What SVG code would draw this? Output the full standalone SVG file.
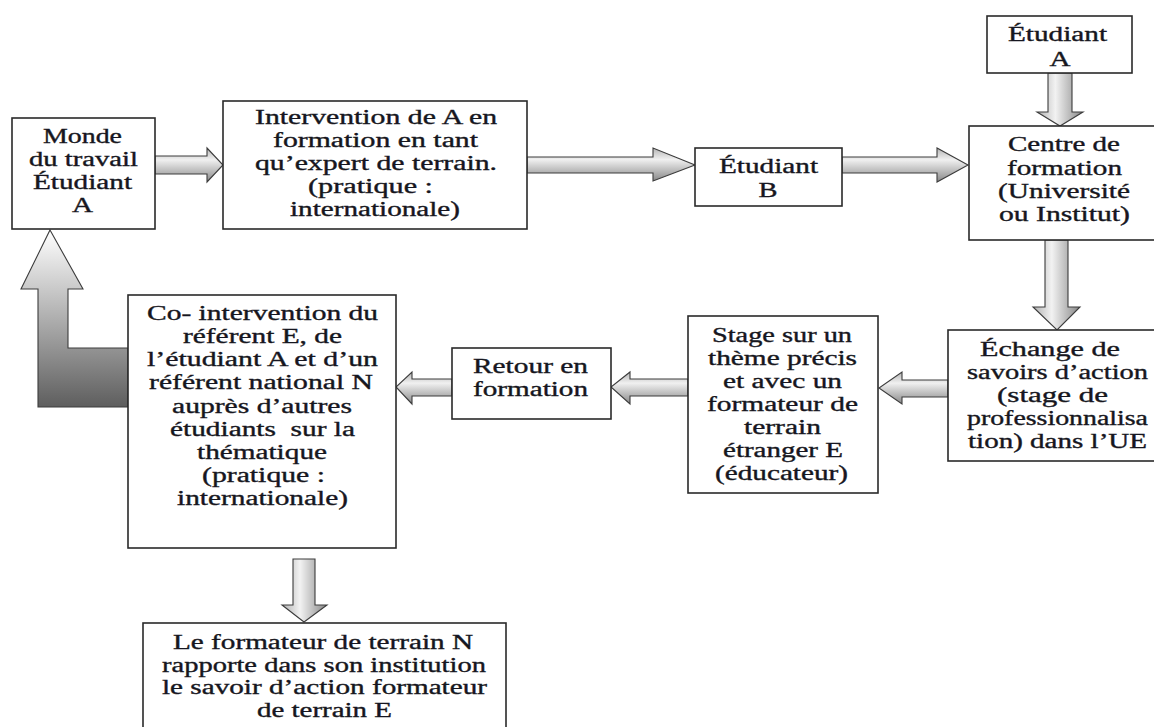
<svg xmlns="http://www.w3.org/2000/svg" width="1154" height="727" viewBox="0 0 1154 727">
<style>
.box{fill:#fff;stroke:#2a2a2a;stroke-width:1.6}
.t{font-family:"Liberation Serif","Times New Roman",serif;font-size:20px;fill:#161620;stroke:#161620;stroke-width:0.35;text-anchor:middle}
.ah{stroke:#3c3c3c;stroke-width:1.1;fill:url(#gh)}
.av{stroke:#3c3c3c;stroke-width:1.1;fill:url(#gv)}
.al{stroke:#3c3c3c;stroke-width:1.1;fill:url(#gl)}
</style>
<defs>
<linearGradient id="gh" x1="0" y1="0" x2="0" y2="1">
<stop offset="0" stop-color="#b4b4b4"/><stop offset="0.35" stop-color="#f0f0f0"/><stop offset="1" stop-color="#888"/>
</linearGradient>
<linearGradient id="gv" x1="0" y1="0" x2="1" y2="0">
<stop offset="0" stop-color="#b0b0b0"/><stop offset="0.4" stop-color="#f2f2f2"/><stop offset="1" stop-color="#868686"/>
</linearGradient>
<linearGradient id="gl" x1="0" y1="0" x2="0" y2="1">
<stop offset="0" stop-color="#ffffff"/><stop offset="1" stop-color="#5e5e5e"/>
</linearGradient>
</defs>
<rect width="1154" height="727" fill="#fff"/>

<g id="connectors">
<polygon class="ah" points="155,156 207,156 207,148 223,165 207,182 207,174 155,174"/>
<polygon class="ah" points="527,157 653,157 653,148 695,165 653,181 653,173 527,173"/>
<polygon class="ah" points="842,157 937,157 937,148 968,165 937,182 937,173 842,173"/>
<polygon class="av" points="1048,73 1072,73 1072,112 1083,112 1060,126 1037,112 1048,112"/>
<polygon class="av" points="1045,240 1068,240 1068,307 1080,307 1057,330 1033,307 1045,307"/>
<polygon class="ah" points="948,380 902,380 902,372 879,388 902,404 902,397 948,397"/>
<polygon class="ah" points="688,379 630,379 630,372 611,387 630,404 630,396 688,396"/>
<polygon class="ah" points="452,379 412,379 412,372 396,387 412,404 412,396 452,396"/>
<polygon class="av" points="293,559 315,559 315,605 327,605 304,622 282,605 293,605"/>
<polygon class="al" points="50,230 83,289 68,289 68,348 128,348 128,407 38,407 38,289 21,289"/>
</g>

<g id="monde">
<rect class="box" x="12" y="118" width="143" height="111"/>
<text class="t" x="82.5" y="143" textLength="79" lengthAdjust="spacingAndGlyphs">Monde</text>
<text class="t" x="83.5" y="166" textLength="109" lengthAdjust="spacingAndGlyphs">du travail</text>
<text class="t" x="82.5" y="189" textLength="99" lengthAdjust="spacingAndGlyphs">Étudiant</text>
<text class="t" x="82.5" y="212" textLength="21" lengthAdjust="spacingAndGlyphs">A</text>
</g>

<g id="intervention">
<rect class="box" x="223" y="101" width="304" height="128"/>
<text class="t" x="376" y="124" textLength="242" lengthAdjust="spacingAndGlyphs">Intervention de A en</text>
<text class="t" x="375.5" y="147" textLength="205" lengthAdjust="spacingAndGlyphs">formation en tant</text>
<text class="t" x="376" y="170" textLength="242" lengthAdjust="spacingAndGlyphs">qu’expert de terrain.</text>
<text class="t" x="370.5" y="193" textLength="125" lengthAdjust="spacingAndGlyphs">(pratique :</text>
<text class="t" x="375" y="216" textLength="170" lengthAdjust="spacingAndGlyphs">internationale)</text>
</g>

<g id="etudiantB">
<rect class="box" x="695" y="148" width="147" height="58"/>
<text class="t" x="768.5" y="173" textLength="99" lengthAdjust="spacingAndGlyphs">Étudiant</text>
<text class="t" x="768" y="197" textLength="19" lengthAdjust="spacingAndGlyphs">B</text>
</g>

<g id="etudiantA">
<rect class="box" x="987" y="16" width="145" height="57"/>
<text class="t" x="1057.5" y="41" textLength="99" lengthAdjust="spacingAndGlyphs">Étudiant</text>
<text class="t" x="1060" y="66" textLength="21" lengthAdjust="spacingAndGlyphs">A</text>
</g>

<g id="centre">
<rect class="box" x="969" y="126" width="195" height="114"/>
<text class="t" x="1064" y="151" textLength="112" lengthAdjust="spacingAndGlyphs">Centre de</text>
<text class="t" x="1064.5" y="175" textLength="115" lengthAdjust="spacingAndGlyphs">formation</text>
<text class="t" x="1064" y="198" textLength="132" lengthAdjust="spacingAndGlyphs">(Université</text>
<text class="t" x="1064.5" y="221" textLength="131" lengthAdjust="spacingAndGlyphs">ou Institut)</text>
</g>

<g id="echange">
<rect class="box" x="948" y="330" width="215" height="131"/>
<text class="t" x="1050" y="356" textLength="140" lengthAdjust="spacingAndGlyphs">Échange de</text>
<text class="t" x="1057.5" y="379" textLength="181" lengthAdjust="spacingAndGlyphs">savoirs d’action</text>
<text class="t" x="1052.5" y="402" textLength="111" lengthAdjust="spacingAndGlyphs">(stage de</text>
<text class="t" x="1057.5" y="425" textLength="181" lengthAdjust="spacingAndGlyphs">professionnalisa</text>
<text class="t" x="1057.5" y="448" textLength="179" lengthAdjust="spacingAndGlyphs">tion) dans l’UE</text>
</g>

<g id="stage">
<rect class="box" x="688" y="316" width="190" height="177"/>
<text class="t" x="782" y="342" textLength="140" lengthAdjust="spacingAndGlyphs">Stage sur un</text>
<text class="t" x="782.5" y="365" textLength="149" lengthAdjust="spacingAndGlyphs">thème précis</text>
<text class="t" x="782.5" y="388" textLength="119" lengthAdjust="spacingAndGlyphs">et avec un</text>
<text class="t" x="782.5" y="411" textLength="151" lengthAdjust="spacingAndGlyphs">formateur de</text>
<text class="t" x="782.5" y="434" textLength="77" lengthAdjust="spacingAndGlyphs">terrain</text>
<text class="t" x="783" y="457" textLength="120" lengthAdjust="spacingAndGlyphs">étranger E</text>
<text class="t" x="781.5" y="480" textLength="133" lengthAdjust="spacingAndGlyphs">(éducateur)</text>
</g>

<g id="retour">
<rect class="box" x="452" y="348" width="159" height="71"/>
<text class="t" x="530.5" y="373" textLength="115" lengthAdjust="spacingAndGlyphs">Retour en</text>
<text class="t" x="530.5" y="396" textLength="115" lengthAdjust="spacingAndGlyphs">formation</text>
</g>

<g id="cointervention">
<rect class="box" x="128" y="295" width="268" height="253"/>
<text class="t" x="262.5" y="320" textLength="231" lengthAdjust="spacingAndGlyphs">Co- intervention du</text>
<text class="t" x="262.5" y="343" textLength="159" lengthAdjust="spacingAndGlyphs">référent E, de</text>
<text class="t" x="262.5" y="366" textLength="231" lengthAdjust="spacingAndGlyphs">l’étudiant A et d’un</text>
<text class="t" x="261" y="389" textLength="224" lengthAdjust="spacingAndGlyphs">référent national N</text>
<text class="t" x="262" y="413" textLength="180" lengthAdjust="spacingAndGlyphs">auprès d’autres</text>
<text class="t" x="262.5" y="436" textLength="185" lengthAdjust="spacingAndGlyphs">étudiants&#160; sur la</text>
<text class="t" x="262" y="459" textLength="130" lengthAdjust="spacingAndGlyphs">thématique</text>
<text class="t" x="263.5" y="482" textLength="123" lengthAdjust="spacingAndGlyphs">(pratique :</text>
<text class="t" x="262.5" y="505" textLength="171" lengthAdjust="spacingAndGlyphs">internationale)</text>
</g>

<g id="formateurN">
<rect class="box" x="143" y="623" width="363" height="120"/>
<text class="t" x="323" y="649" textLength="300" lengthAdjust="spacingAndGlyphs">Le formateur de terrain N</text>
<text class="t" x="324" y="672" textLength="324" lengthAdjust="spacingAndGlyphs">rapporte dans son institution</text>
<text class="t" x="324.5" y="694" textLength="325" lengthAdjust="spacingAndGlyphs">le savoir d’action formateur</text>
<text class="t" x="324.5" y="717" textLength="135" lengthAdjust="spacingAndGlyphs">de terrain E</text>
</g>
</svg>
